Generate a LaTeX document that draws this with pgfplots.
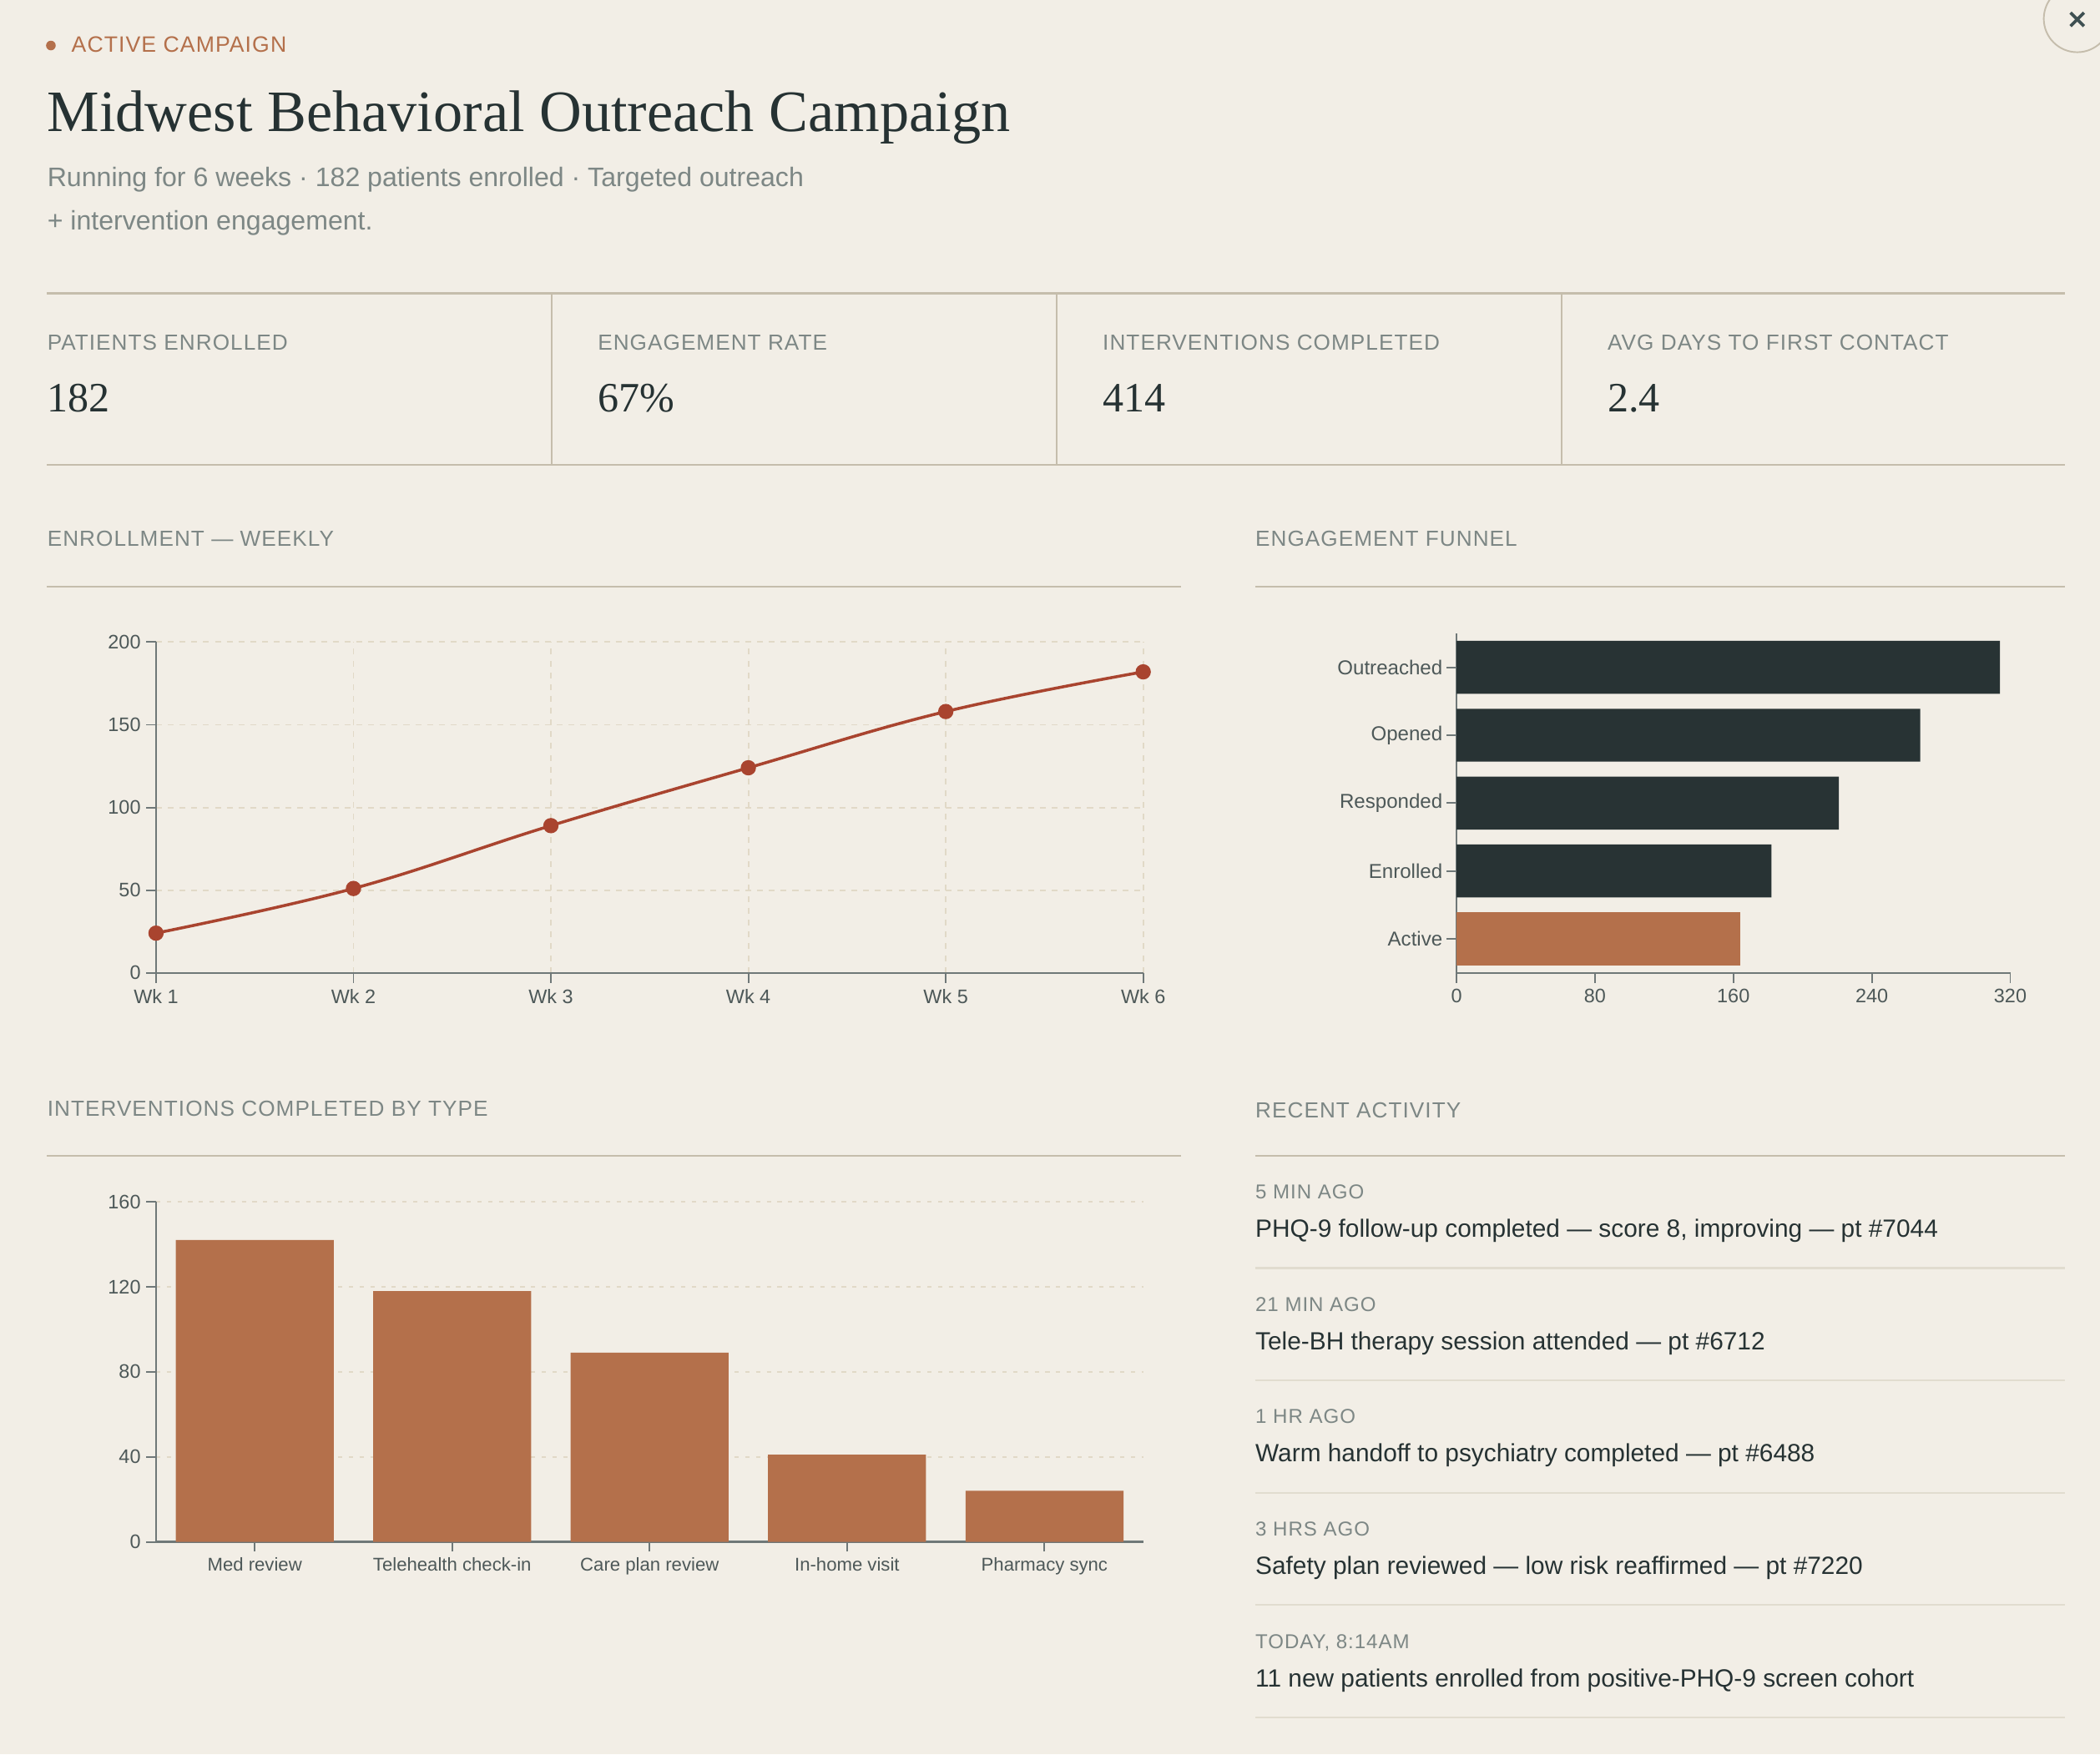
\documentclass[border=0pt]{standalone}
\usepackage{pgfplots}
\pgfplotsset{compat=1.18}
\usepackage{fontspec}
\setmainfont{Liberation Sans}
\newfontfamily\seriffont{Liberation Serif}
\newfontfamily\capsfont[LetterSpace=4]{Liberation Sans}
\definecolor{bg}{HTML}{F2EEE6}
\definecolor{ink}{HTML}{263233}
\definecolor{muted}{HTML}{7D8785}
\definecolor{tickc}{HTML}{4D5858}
\definecolor{axisc}{HTML}{6F7878}
\definecolor{rule}{HTML}{C5BDAC}
\definecolor{rulelight}{HTML}{E1DCCF}
\definecolor{gridc}{HTML}{E1D9C7}
\definecolor{barorange}{HTML}{B4704B}
\definecolor{linered}{HTML}{A9442F}
\definecolor{darkbar}{HTML}{283334}
\definecolor{xmark}{HTML}{3F5052}
\newcommand{\fs}[1]{\fontsize{#1}{#1}\selectfont}
\pgfplotsset{
  dash/.style={
    scale only axis,
    axis x line=bottom, axis y line=left,
    axis line style={axisc, line width=0.7pt, -},
    tick align=outside, major tick length=3.7pt,
    tick style={axisc, line width=0.6pt},
    ticklabel style={font=\fs{7.3}, text=tickc},
    /pgf/number format/assume math mode=true,
  }
}
\begin{document}
\begin{tikzpicture}
\path[use as bounding box] (0,0) rectangle (784pt,-655pt);
\clip (0,0) rectangle (784pt,-655pt);
\fill[bg] (0,0) rectangle (784pt,-655pt);
\begin{scope}[x=0.5pt,y=-0.5pt]
 % close button
 \draw[rule, line width=0.6pt] (1551,14) circle[radius=25];
 \draw[xmark, line width=1.2pt] (1546,9.5) -- (1556,19.5) (1546,19.5) -- (1556,9.5);
 % header
 \fill[barorange] (38,34) circle[radius=3.6];
 \node[anchor=base west, inner sep=0, text=barorange, font=\capsfont\fs{8.3}] at (53,39.2) {ACTIVE CAMPAIGN};
 \node[anchor=base west, inner sep=0, text=ink, font=\seriffont\fs{21.9}] at (35,98) {Midwest Behavioral Outreach Campaign};
 \node[anchor=base west, inner sep=0, text=muted, font=\fs{10}] at (35,139.5) {Running for 6 weeks · 182 patients enrolled · Targeted outreach};
 \node[anchor=base west, inner sep=0, text=muted, font=\fs{10}] at (35,171.8) {+ intervention engagement.};
 % KPI strip
 \draw[rule, line width=0.7pt] (35,219) -- (1542,219) (35,347) -- (1542,347);
 \draw[rule, line width=0.7pt] (412,219) -- (412,347) (789,219) -- (789,347) (1166,219) -- (1166,347);
 \foreach \x/\l/\v in {35/PATIENTS ENROLLED/182, 446/ENGAGEMENT RATE/67\%, 823/INTERVENTIONS COMPLETED/414, 1200/AVG DAYS TO FIRST CONTACT/2.4}{
   \node[anchor=base west, inner sep=0, text=muted, font=\capsfont\fs{8.15}] at (\x,261.7) {\l};
   \node[anchor=base west, inner sep=0, text=ink, font=\seriffont\fs{15.6}] at (\x,307.8) {\v};
 }
 % section titles
 \node[anchor=base west, inner sep=0, text=muted, font=\capsfont\fs{8.15}] at (35,408) {ENROLLMENT — WEEKLY};
 \draw[rule, line width=0.7pt] (35,438) -- (882,438);
 \node[anchor=base west, inner sep=0, text=muted, font=\capsfont\fs{8.15}] at (937,408) {ENGAGEMENT FUNNEL};
 \draw[rule, line width=0.7pt] (937,438) -- (1542,438);
 \node[anchor=base west, inner sep=0, text=muted, font=\capsfont\fs{8.15}] at (35,833.5) {INTERVENTIONS COMPLETED BY TYPE};
 \draw[rule, line width=0.7pt] (35,863) -- (882,863);
 \node[anchor=base west, inner sep=0, text=muted, font=\capsfont\fs{8.15}] at (937,834.5) {RECENT ACTIVITY};
 \draw[rule, line width=0.7pt] (937,863) -- (1542,863);
 % activity
 \foreach \i/\t/\m in {0/{5 MIN AGO}/{PHQ-9 follow-up completed — score 8, improving — pt \#7044},
                      1/{21 MIN AGO}/{Tele-BH therapy session attended — pt \#6712},
                      2/{1 HR AGO}/{Warm handoff to psychiatry completed — pt \#6488},
                      3/{3 HRS AGO}/{Safety plan reviewed — low risk reaffirmed — pt \#7220},
                      4/{TODAY, 8:14AM}/{11 new patients enrolled from positive-PHQ-9 screen cohort}}{
   \node[anchor=base west, inner sep=0, text=muted, font=\capsfont\fs{7.5}] at (937,895.3+83.9*\i) {\t};
   \node[anchor=base west, inner sep=0, text=ink, font=\fs{9.3}] at (937,924+83.9*\i) {\m};
   \draw[rulelight, line width=0.7pt] (937,946.9+83.9*\i) -- (1542,946.9+83.9*\i);
 }
\end{scope}

% Enrollment weekly line chart
\begin{axis}[dash, at={(58.25pt,-363.25pt)}, anchor=south west,
  width=368.55pt, height=123.5pt,
  xmin=1, xmax=6, ymin=0, ymax=200,
  xtick={1,2,3,4,5,6}, xticklabels={Wk 1,Wk 2,Wk 3,Wk 4,Wk 5,Wk 6},
  xticklabel style={yshift=1.1pt},
  yticklabel style={xshift=1.5pt},
  ytick={0,50,100,150,200},
  grid=major, major grid style={gridc, line width=0.6pt, dash pattern=on 2.2pt off 2.2pt},
  clip=false]
\addplot[linered, line width=1.1pt, smooth, tension=0.65, mark=*, mark size=2.3pt,
  mark options={fill=linered, draw=linered, solid}]
  coordinates {(1,24) (2,51) (3,89) (4,124) (5,158) (6,182)};
\end{axis}

% Engagement funnel
\begin{axis}[dash, at={(543.75pt,-363.25pt)}, anchor=south west,
  width=206.75pt, height=126.75pt,
  xbar, bar shift=0pt, bar width=0.78,
  xmin=0, xmax=320, ymin=-0.5, ymax=4.5,
  xtick={0,80,160,240,320},
  xticklabel style={yshift=1.1pt},
  yticklabel style={font=\fs{7.5}, xshift=2pt},
  ytick={0,1,2,3,4}, yticklabels={Active,Enrolled,Responded,Opened,Outreached}]
\addplot[fill=darkbar, draw=none] coordinates {(314,4) (268,3) (221,2) (182,1)};
\addplot[fill=barorange, draw=none] coordinates {(164,0)};
\end{axis}

% Interventions by type
\begin{axis}[dash, at={(58.25pt,-575.7pt)}, anchor=south west,
  width=368.55pt, height=126.95pt,
  ybar, bar shift=0pt, bar width=0.8,
  xmin=-0.5, xmax=4.5, ymin=0, ymax=160,
  ytick={0,40,80,120,160},
  yticklabel style={xshift=1.5pt},
  xticklabel style={font=\fs{6.9}, yshift=1.2pt},
  xtick={0,1,2,3,4}, xticklabels={Med review,Telehealth check-in,Care plan review,In-home visit,Pharmacy sync},
  ymajorgrids, major grid style={gridc, line width=0.7pt, dash pattern=on 1.6pt off 2.4pt}]
\addplot[fill=barorange, draw=none] coordinates {(0,142) (1,118) (2,89) (3,41) (4,24)};
\end{axis}
\end{tikzpicture}
\end{document}
